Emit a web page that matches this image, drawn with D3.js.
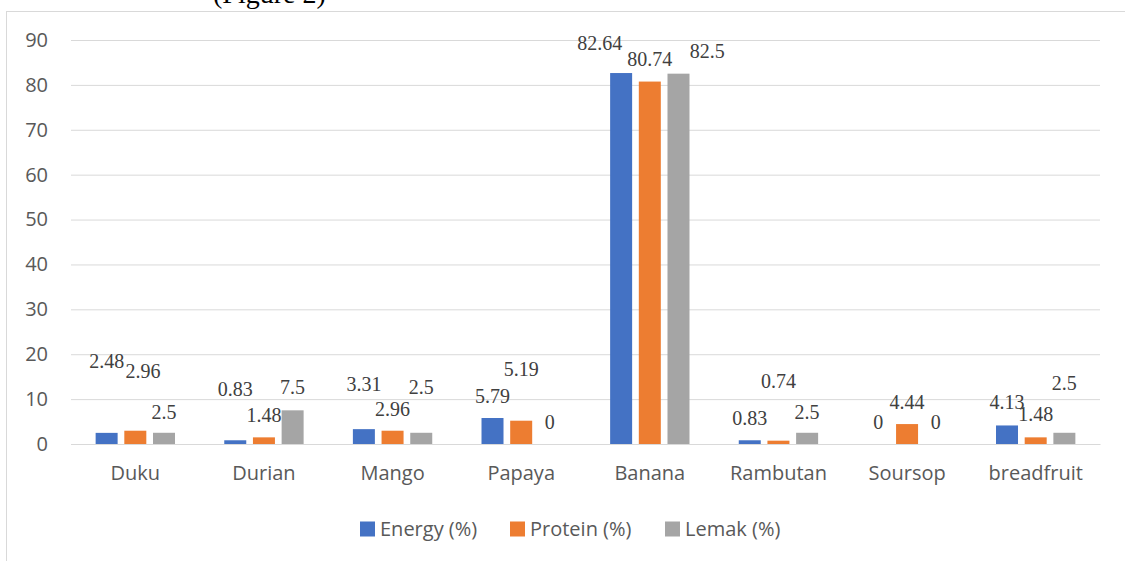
<!DOCTYPE html>
<html>
<head>
<meta charset="utf-8">
<script src="https://cdn.jsdelivr.net/npm/d3@7"></script>
<style>
  html, body { margin: 0; padding: 0; background: #fff; }
  svg { display: block; }
</style>
</head>
<body>
<svg id="chart" width="1125" height="561"></svg>
<script>
// ---- data ----
const categories = ["Duku", "Durian", "Mango", "Papaya", "Banana", "Rambutan", "Soursop", "breadfruit"];
const seriesNames = ["Energy (%)", "Protein (%)", "Lemak (%)"];
const energy  = [2.48, 0.83, 3.31, 5.79, 82.64, 0.83, 0, 4.13];
const protein = [2.96, 1.48, 2.96, 5.19, 80.74, 0.74, 4.44, 1.48];
const lemak   = [2.5, 7.5, 2.5, 0, 82.5, 2.5, 0, 2.5];
const yTicks  = [0, 10, 20, 30, 40, 50, 60, 70, 80, 90];
// where each data label sits (value units, as placed in the original)
const energyLabelAt  = [18.5, 12.2, 13.3, 10.7, 89.3, 5.9, 5.0, 9.3];
const proteinLabelAt = [16.3, 6.4, 7.8, 16.7, 85.7, 14.1, 9.3, 6.7];
const lemakLabelAt   = [7.2, 12.6, 12.6, 5.0, 87.6, 7.2, 5.0, 13.7];
// horizontal nudge of each label, in bar slots
const energyLabelShift  = [0, 0, 0, 0, -0.75, 0, 0, 0];
const proteinLabelShift = [0.27, 0, 0, 0, 0, 0, 0, 0];
const lemakLabelShift   = [0, 0, 0, 0, 1.0, 0, 0, 0];

const seriesValues = [energy, protein, lemak];
const seriesLabelAt = [energyLabelAt, proteinLabelAt, lemakLabelAt];
const seriesLabelShift = [energyLabelShift, proteinLabelShift, lemakLabelShift];
const colors = ["#4472C4", "#ED7D31", "#A5A5A5"];

const svg = d3.select("#chart");
const W = 1125, H = 561;
const plot = { left: 71, right: 1100, top: 40, bottom: 444 };

// caption fragment cut at top (as in the source picture)
svg.append("text")
  .attr("x", 213).attr("y", 3)
  .attr("font-family", "Liberation Serif, serif")
  .attr("font-size", 28)
  .attr("fill", "#000")
  .text("(Figure 2)");

// chart border
svg.append("rect")
  .attr("x", 6.5).attr("y", 11.5)
  .attr("width", W + 10).attr("height", H + 10)
  .attr("fill", "none").attr("stroke", "#d9d9d9").attr("stroke-width", 1);

const x0 = d3.scaleBand().domain(categories)
  .range([plot.left, plot.right]).paddingInner(0.383).paddingOuter(0.1915);
const x1 = d3.scaleBand().domain(d3.range(3))
  .range([0, x0.bandwidth()]).paddingInner(0.233).paddingOuter(0);
const y = d3.scaleLinear().domain([0, 90]).range([plot.bottom, plot.top]);

// gridlines + y axis labels
const yAxis = d3.axisLeft(y).tickValues(yTicks)
  .tickSize(-(plot.right - plot.left)).tickPadding(23).tickFormat(d3.format("d"));
const gy = svg.append("g").attr("transform", `translate(${plot.left},0)`).call(yAxis);
gy.select(".domain").remove();
gy.selectAll(".tick line").attr("stroke", "#d9d9d9").attr("stroke-width", 1);
gy.selectAll(".tick text")
  .attr("font-family", "Open Sans, sans-serif").attr("font-size", 20)
  .attr("fill", "#595959");

// x axis labels
const xAxis = d3.axisBottom(x0).tickSize(0).tickPadding(22);
const gx = svg.append("g").attr("transform", `translate(0,${plot.bottom})`).call(xAxis);
gx.select(".domain").attr("stroke", "#d9d9d9");
gx.selectAll(".tick text")
  .attr("font-family", "Open Sans, sans-serif").attr("font-size", 20)
  .attr("fill", "#595959");

// bars
const groups = svg.append("g").selectAll("g")
  .data(categories).join("g")
  .attr("transform", d => `translate(${x0(d)},0)`);

groups.selectAll("rect")
  .data((d, i) => seriesValues.map((vals, s) => ({ s, v: vals[i] })))
  .join("rect")
  .attr("x", d => x1(d.s))
  .attr("width", x1.bandwidth())
  .attr("y", d => y(d.v))
  .attr("height", d => y(0) - y(d.v))
  .attr("fill", d => colors[d.s]);

// data labels
groups.selectAll("text.lbl")
  .data((d, i) => seriesValues.map((vals, s) => ({
    s, v: vals[i], at: seriesLabelAt[s][i], sh: seriesLabelShift[s][i]
  })))
  .join("text")
  .attr("class", "lbl")
  .attr("x", d => x1(d.s) + x1.bandwidth() / 2 + d.sh * x1.step())
  .attr("y", d => y(d.at))
  .attr("dy", "0.35em")
  .attr("text-anchor", "middle")
  .attr("font-family", "Liberation Serif, serif")
  .attr("font-size", 20)
  .attr("fill", "#404040")
  .text(d => String(d.v));

// legend
const legendX = [360, 510, 665];
const lg = svg.append("g").selectAll("g").data(seriesNames).join("g")
  .attr("transform", (d, i) => `translate(${legendX[i]},529)`);
lg.append("rect").attr("x", 0).attr("y", -7.5).attr("width", 15).attr("height", 15)
  .attr("fill", (d, i) => colors[i]);
lg.append("text").attr("x", 20).attr("y", 0).attr("dy", "0.35em")
  .attr("font-family", "Open Sans, sans-serif").attr("font-size", 20)
  .attr("fill", "#595959").text(d => d);
</script>
</body>
</html>
